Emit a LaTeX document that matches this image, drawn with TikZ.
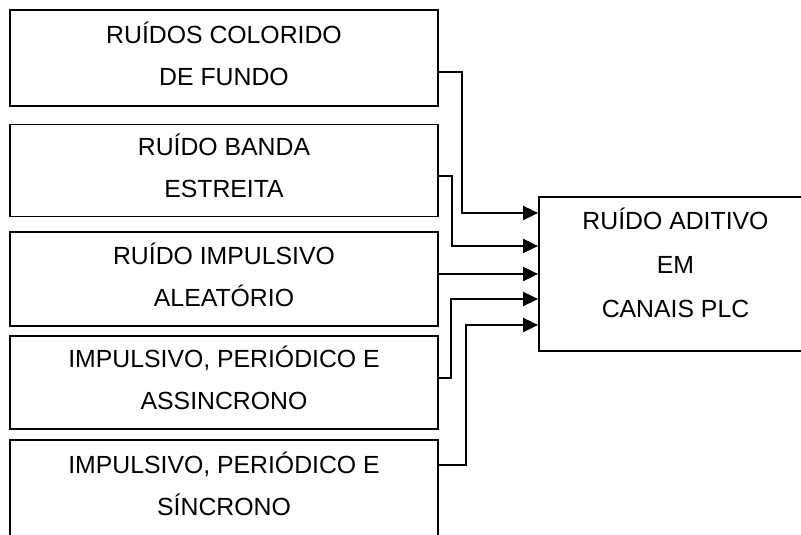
\documentclass[tikz,border=0pt]{standalone}
\usepackage{fontspec}
\setmainfont{Liberation Sans}
\usetikzlibrary{arrows.meta}
\newcommand{\firstln}[1]{\rule{0pt}{17.5pt}\smash{#1}}
\newcommand{\lastln}[2]{#2\rule[-#1]{0pt}{#1}}
\begin{document}
\begin{tikzpicture}[x=1pt,y=1pt,
  srcbox/.style={draw, line width=1.8pt, minimum width=428pt, align=center,
    font=\fontsize{24.8}{42}\selectfont, inner sep=0pt},
  bigbox/.style={draw, line width=1.8pt, minimum width=273pt, minimum height=154pt, align=center,
    font=\fontsize{24.8}{44}\selectfont, inner sep=0pt},
  link/.style={line width=1.8pt, -{Triangle[length=15pt,width=14pt]}}]
\useasboundingbox (0,0) rectangle (801,535);
\node[srcbox, minimum height=96pt] (b1) at (224,477) {\firstln{RUÍDOS COLORIDO}\\\lastln{5pt}{DE FUNDO}};
\node[srcbox, minimum height=92pt] (b2) at (224,364.5) {\firstln{RUÍDO BANDA}\\\lastln{5pt}{ESTREITA}};
\node[srcbox, minimum height=94pt] (b3) at (224,256) {\firstln{RUÍDO IMPULSIVO}\\\lastln{5pt}{ALEATÓRIO}};
\node[srcbox, minimum height=93pt] (b4) at (224,152.5) {\firstln{IMPULSIVO, PERIÓDICO E}\\\lastln{5pt}{ASSINCRONO}};
\node[srcbox, minimum height=99pt] (b5) at (224,45.5) {\firstln{IMPULSIVO, PERIÓDICO E}\\\lastln{8pt}{SÍNCRONO}};
\node[bigbox] (big) at (675.5,261) {\firstln{RUÍDO ADITIVO}\\EM\\\lastln{19pt}{CANAIS PLC}};
% exit points
\coordinate (o1) at ([yshift=-14pt]b1.east);
\coordinate (o2) at ([yshift=-5.5pt]b2.east);
\coordinate (o3) at ([yshift=5pt]b3.east);
\coordinate (o4) at ([yshift=4.5pt]b4.east);
\coordinate (o5) at ([yshift=24.5pt]b5.east);
% entry points
\coordinate (i1) at ([yshift=61pt]big.west);
\coordinate (i2) at ([yshift=28pt]big.west);
\coordinate (i3) at (big.west |- o3);
\coordinate (i4) at ([yshift=-25pt]big.west);
\coordinate (i5) at ([yshift=-51pt]big.west);
% vertical runs
\coordinate (k1) at (462,0);
\coordinate (k2) at (452,0);
\coordinate (k4) at (451,0);
\coordinate (k5) at (466,0);
\draw[link] (o1) -| (k1 |- i1) -- (i1);
\draw[link] (o2) -| (k2 |- i2) -- (i2);
\draw[link] (o3) -- (i3);
\draw[link] (o4) -| (k4 |- i4) -- (i4);
\draw[link] (o5) -| (k5 |- i5) -- (i5);
\end{tikzpicture}
\end{document}
